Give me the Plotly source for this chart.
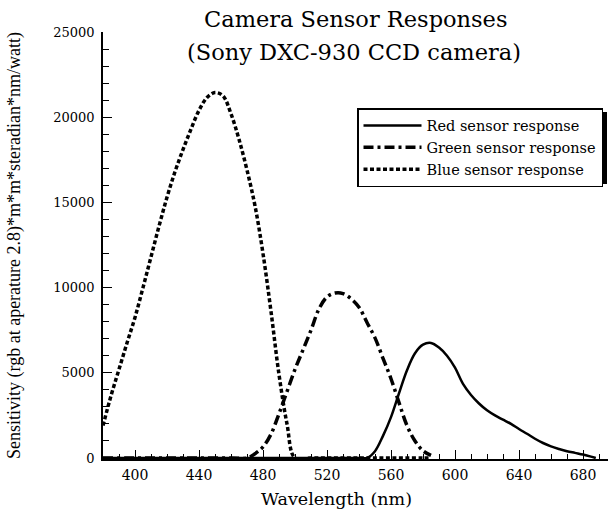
import plotly.graph_objects as go

# ---- data ----
blue_wl = [380, 385, 390, 395, 400, 405, 410, 415, 420, 425, 430, 435, 440, 445, 450,
           455, 460, 465, 470, 475, 480, 485, 490, 495, 500, 510, 520, 530, 540, 550,
           560, 570, 580, 585]
blue_val = [1900, 3650, 5200, 6750, 8250, 10000, 11800, 13600, 15300, 16800, 18100, 19300,
            20400, 21150, 21450, 21250, 20200, 18700, 16900, 14800, 12000, 8600, 4900,
            2000, 0, 0, 0, 0, 0, 0, 0, 0, 0, 0]

green_wl = [380, 400, 420, 440, 460, 470, 475, 480, 485, 490, 495, 500, 505, 510, 515,
            520, 525, 530, 535, 540, 545, 550, 555, 560, 565, 570, 575, 580, 585]
green_val = [0, 0, 0, 0, 0, 0, 250, 650, 1400, 2600, 3900, 5200, 6350, 7500, 8750,
             9450, 9680, 9650, 9350, 8850, 7950, 7050, 5850, 4650, 3250, 1900, 1000, 420, 150]

red_wl = [380, 400, 450, 500, 540, 545, 550, 555, 560, 565, 570, 575, 580, 585, 590, 595,
          600, 605, 610, 615, 620, 625, 630, 635, 640, 645, 650, 655, 660, 665, 670,
          675, 680, 685, 688]
red_val = [0, 0, 0, 0, 0, 0, 400, 1300, 2400, 3800, 5150, 6150, 6650, 6750, 6480, 6000,
           5300, 4350, 3700, 3200, 2800, 2500, 2250, 2000, 1700, 1420, 1130, 880, 680, 530,
           400, 300, 200, 80, 0]

x_tickvals = [400, 440, 480, 520, 560, 600, 640, 680]
y_tickvals = [0, 5000, 10000, 15000, 20000, 25000]

title_line1 = "Camera Sensor Responses"
title_line2 = "(Sony DXC-930 CCD camera)"
x_title = "Wavelength (nm)"
y_title = "Sensitivity (rgb at aperature 2.8)*m*m*steradian*nm/watt)"

SERIF = "DejaVu Serif"
TIMES = "Liberation Serif"

fig = go.Figure()
fig.add_trace(go.Scatter(x=red_wl, y=red_val, mode="lines", name="Red sensor response",
                         line=dict(color="black", width=2.5, dash="solid", shape="spline")))
fig.add_trace(go.Scatter(x=green_wl, y=green_val, mode="lines", name="Green sensor response",
                         line=dict(color="black", width=3.5, dash="10px,4px,3px,4px", shape="spline")))
fig.add_trace(go.Scatter(x=blue_wl, y=blue_val, mode="lines", name="Blue sensor response",
                         line=dict(color="black", width=3.5, dash="4px,2.5px", shape="spline")))

L, R, T, B = 103, 0, 32, 61
W, H = 608, 520
pw = W - L - R
ph = H - T - B
ymin = -25000 / 426


def px2paper_x(px):
    return (px - L) / pw


def px2paper_y(py):
    return (H - B - py) / ph


# legend box (pixels) and its drop shadow
lx0, ly0 = 357, 108
lw, lh = 246, 72
fig.add_shape(type="rect", xref="paper", yref="paper",
              x0=px2paper_x(lx0 + 4), x1=px2paper_x(lx0 + lw + 4),
              y0=px2paper_y(ly0 + lh + 4), y1=px2paper_y(ly0 + 4),
              fillcolor="black", line=dict(width=0), layer="above")

# title lines and x-axis title as text annotations
fig.add_annotation(text=title_line1, xref="paper", yref="paper",
                   x=px2paper_x(355), y=px2paper_y(19), xanchor="center", yanchor="middle",
                   showarrow=False, font=dict(family=SERIF, size=22.5, color="black"))
fig.add_annotation(text=title_line2, xref="paper", yref="paper",
                   x=px2paper_x(354), y=px2paper_y(52), xanchor="center", yanchor="middle",
                   showarrow=False, font=dict(family=SERIF, size=22.5, color="black"))
fig.add_annotation(text=x_title, xref="paper", yref="paper",
                   x=px2paper_x(336), y=px2paper_y(499), xanchor="center", yanchor="middle",
                   showarrow=False, font=dict(family=SERIF, size=17.5, color="black"))

fig.update_layout(
    width=W, height=H,
    margin=dict(l=L, r=R, t=T, b=B, pad=0, autoexpand=False),
    paper_bgcolor="white", plot_bgcolor="white",
    font=dict(family=SERIF, color="black"),
    showlegend=True,
    legend=dict(x=px2paper_x(lx0), y=px2paper_y(ly0), xanchor="left", yanchor="top",
                bgcolor="white", bordercolor="black", borderwidth=1.5,
                font=dict(family=SERIF, size=14.5, color="black"),
                itemwidth=58, tracegroupgap=0),
    xaxis=dict(range=[380, 380 + pw / 1.6], tickvals=x_tickvals, tickformat="d",
               ticks="inside", ticklen=9, tickwidth=1, tickcolor="black",
               minor=dict(dtick=10, tick0=380, ticks="inside", ticklen=5, tickwidth=1, tickcolor="black"),
               showline=True, linecolor="black", linewidth=1.5, showgrid=False, zeroline=False,
               tickfont=dict(family=SERIF, size=14), ticklabelstandoff=2),
    yaxis=dict(range=[ymin, 25000], tickvals=y_tickvals, tickformat="d",
               ticks="inside", ticklen=9, tickwidth=1, tickcolor="black",
               minor=dict(dtick=1000, tick0=0, ticks="inside", ticklen=6, tickwidth=1, tickcolor="black"),
               showline=True, linecolor="black", linewidth=1.5, showgrid=False, zeroline=False,
               tickfont=dict(family=SERIF, size=13), ticklabelstandoff=4,
               title=dict(text=y_title, font=dict(family=TIMES, size=18), standoff=28)),
)

fig.write_html("out.html", config={"displayModeBar": False},
               post_script="document.body.style.margin='0';")
